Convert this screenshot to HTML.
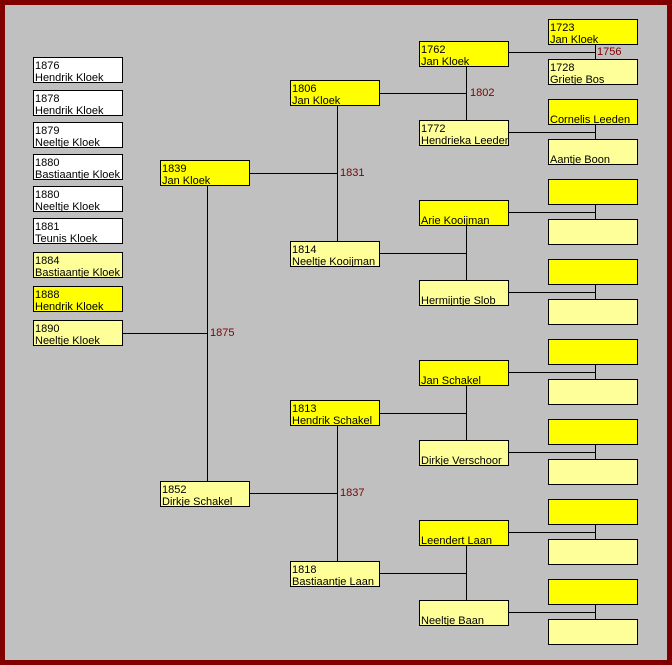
<!DOCTYPE html>
<html><head><meta charset="utf-8"><style>
body{margin:0;width:672px;height:665px;overflow:hidden;background:#800000;}
#c{position:absolute;left:5px;top:5px;width:662px;height:655px;background:#c0c0c0;}
.b{position:absolute;box-sizing:border-box;border:1px solid #000;font:11px/12px "Liberation Sans",sans-serif;color:#000;padding:2px 0 0 1px;white-space:nowrap;overflow:hidden;}
.w{background:#fff}.y{background:#ffff00}.l{background:#ffff99}
.h{position:absolute;height:1px;background:#000}
.v{position:absolute;width:1px;background:#000}
.t{position:absolute;font:11px "Liberation Sans",sans-serif;color:#800000;line-height:12px}
</style></head><body><div id="c"></div>
<div class="b w" style="left:33px;top:57px;width:90px;height:26px">1876<br>Hendrik Kloek</div>
<div class="b w" style="left:33px;top:90px;width:90px;height:26px">1878<br>Hendrik Kloek</div>
<div class="b w" style="left:33px;top:122px;width:90px;height:26px">1879<br>Neeltje Kloek</div>
<div class="b w" style="left:33px;top:154px;width:90px;height:26px">1880<br>Bastiaantje Kloek</div>
<div class="b w" style="left:33px;top:186px;width:90px;height:26px">1880<br>Neeltje Kloek</div>
<div class="b w" style="left:33px;top:218px;width:90px;height:26px">1881<br>Teunis Kloek</div>
<div class="b l" style="left:33px;top:252px;width:90px;height:26px">1884<br>Bastiaantje Kloek</div>
<div class="b y" style="left:33px;top:286px;width:90px;height:26px">1888<br>Hendrik Kloek</div>
<div class="b l" style="left:33px;top:320px;width:90px;height:26px">1890<br>Neeltje Kloek</div>
<div class="h" style="left:122px;top:333px;width:85px"></div>
<div class="v" style="left:207px;top:185px;height:296px"></div>
<div class="t" style="left:210px;top:327px">1875</div>
<div class="b y" style="left:160px;top:160px;width:90px;height:26px">1839<br>Jan Kloek</div>
<div class="b l" style="left:160px;top:481px;width:90px;height:26px">1852<br>Dirkje Schakel</div>
<div class="h" style="left:249px;top:173px;width:88px"></div>
<div class="v" style="left:337px;top:105px;height:136px"></div>
<div class="t" style="left:340px;top:167px">1831</div>
<div class="h" style="left:249px;top:493px;width:88px"></div>
<div class="v" style="left:337px;top:425px;height:136px"></div>
<div class="t" style="left:340px;top:487px">1837</div>
<div class="b y" style="left:290px;top:80px;width:90px;height:26px">1806<br>Jan Kloek</div>
<div class="b l" style="left:290px;top:241px;width:90px;height:26px">1814<br>Neeltje Kooijman</div>
<div class="b y" style="left:290px;top:400px;width:90px;height:26px">1813<br>Hendrik Schakel</div>
<div class="b l" style="left:290px;top:561px;width:90px;height:26px">1818<br>Bastiaantje Laan</div>
<div class="h" style="left:380px;top:93px;width:86px"></div>
<div class="v" style="left:466px;top:66px;height:54px"></div>
<div class="t" style="left:470px;top:87px">1802</div>
<div class="h" style="left:380px;top:253px;width:86px"></div>
<div class="v" style="left:466px;top:225px;height:55px"></div>
<div class="h" style="left:380px;top:413px;width:86px"></div>
<div class="v" style="left:466px;top:385px;height:55px"></div>
<div class="h" style="left:380px;top:573px;width:86px"></div>
<div class="v" style="left:466px;top:545px;height:55px"></div>
<div class="b y" style="left:419px;top:41px;width:90px;height:26px">1762<br>Jan Kloek</div>
<div class="b l" style="left:419px;top:120px;width:90px;height:26px">1772<br>Hendrieka Leeden</div>
<div class="b y" style="left:419px;top:200px;width:90px;height:26px"><br>Arie Kooijman</div>
<div class="b l" style="left:419px;top:280px;width:90px;height:26px"><br>Hermijntje Slob</div>
<div class="b y" style="left:419px;top:360px;width:90px;height:26px"><br>Jan Schakel</div>
<div class="b l" style="left:419px;top:440px;width:90px;height:26px"><br>Dirkje Verschoor</div>
<div class="b y" style="left:419px;top:520px;width:90px;height:26px"><br>Leendert Laan</div>
<div class="b l" style="left:419px;top:600px;width:90px;height:26px"><br>Neeltje Baan</div>
<div class="h" style="left:508px;top:52px;width:87px"></div>
<div class="v" style="left:595px;top:44px;height:15px"></div>
<div class="t" style="left:597px;top:46px">1756</div>
<div class="h" style="left:508px;top:132px;width:87px"></div><div class="v" style="left:595px;top:124px;height:15px"></div>
<div class="h" style="left:508px;top:212px;width:87px"></div><div class="v" style="left:595px;top:204px;height:15px"></div>
<div class="h" style="left:508px;top:292px;width:87px"></div><div class="v" style="left:595px;top:284px;height:15px"></div>
<div class="h" style="left:508px;top:372px;width:87px"></div><div class="v" style="left:595px;top:364px;height:15px"></div>
<div class="h" style="left:508px;top:452px;width:87px"></div><div class="v" style="left:595px;top:444px;height:15px"></div>
<div class="h" style="left:508px;top:532px;width:87px"></div><div class="v" style="left:595px;top:524px;height:15px"></div>
<div class="h" style="left:508px;top:612px;width:87px"></div><div class="v" style="left:595px;top:604px;height:15px"></div>
<div class="b y" style="left:548px;top:19px;width:90px;height:26px">1723<br>Jan Kloek</div>
<div class="b l" style="left:548px;top:59px;width:90px;height:26px">1728<br>Grietje Bos</div>
<div class="b y" style="left:548px;top:99px;width:90px;height:26px"><br>Cornelis Leeden</div>
<div class="b l" style="left:548px;top:139px;width:90px;height:26px"><br>Aantje Boon</div>
<div class="b y" style="left:548px;top:179px;width:90px;height:26px"></div>
<div class="b l" style="left:548px;top:219px;width:90px;height:26px"></div>
<div class="b y" style="left:548px;top:259px;width:90px;height:26px"></div>
<div class="b l" style="left:548px;top:299px;width:90px;height:26px"></div>
<div class="b y" style="left:548px;top:339px;width:90px;height:26px"></div>
<div class="b l" style="left:548px;top:379px;width:90px;height:26px"></div>
<div class="b y" style="left:548px;top:419px;width:90px;height:26px"></div>
<div class="b l" style="left:548px;top:459px;width:90px;height:26px"></div>
<div class="b y" style="left:548px;top:499px;width:90px;height:26px"></div>
<div class="b l" style="left:548px;top:539px;width:90px;height:26px"></div>
<div class="b y" style="left:548px;top:579px;width:90px;height:26px"></div>
<div class="b l" style="left:548px;top:619px;width:90px;height:26px"></div>
</body></html>
